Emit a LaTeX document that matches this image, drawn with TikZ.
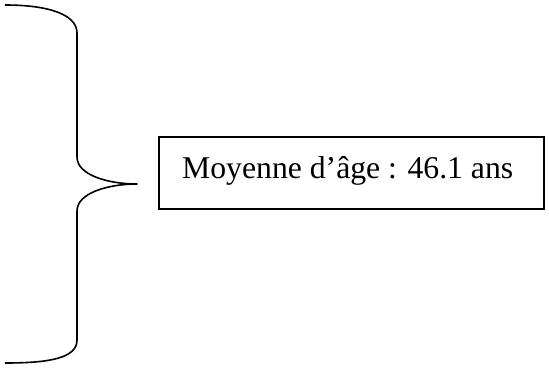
\documentclass[tikz,border=0pt]{standalone}
\usepackage{fontspec}
\setmainfont{Liberation Serif}
\begin{document}
\begin{tikzpicture}[x=1pt,y=-1pt,
  stroke/.style={line width=1.6pt,black},
  boxstyle/.style={draw,line width=1.6pt,minimum width=385pt,minimum height=72pt,inner sep=0pt},
  labelstyle/.style={inner sep=0pt,font=\fontsize{31.7}{38}\selectfont}]
\useasboundingbox (0,0) rectangle (549,367);
% brace
\coordinate (top) at (5,5);
\coordinate (tip) at (137,184);
\coordinate (bottom) at (5,363);
\draw[stroke,line join=round] (top) .. controls (50,5) and (77,15) .. (77,33)
  -- (77,157) .. controls (77,175) and (108,184) .. (tip)
  .. controls (108,184) and (77,193) .. (77,211)
  -- (77,340) .. controls (77,358) and (50,363) .. (bottom);
% box
\node[boxstyle] (box) at (351.5,173) {};
\node[labelstyle,anchor=base west] (label) at (182,178) {Moyenne d’âge : 46.1 ans};
\end{tikzpicture}
\end{document}
